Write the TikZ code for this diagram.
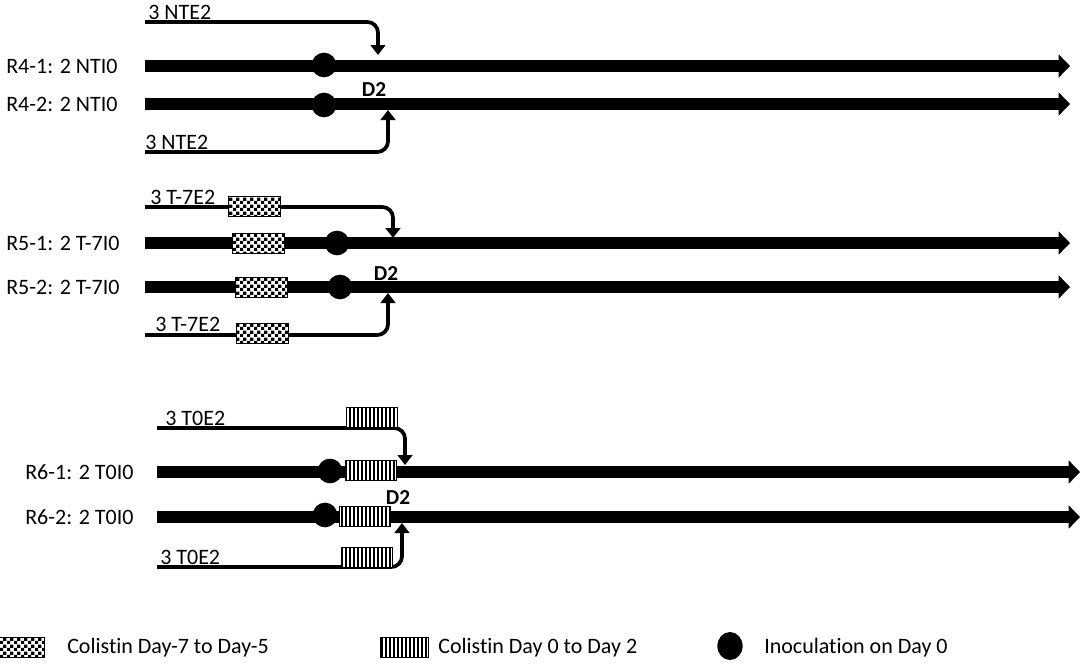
\documentclass[tikz,border=0pt]{standalone}
\usepackage{fontspec}
\setmainfont{Carlito}[Ligatures=CommonOff]
\usetikzlibrary{arrows.meta,positioning,patterns,shapes.geometric}

% finer fills than the stock patterns
\pgfdeclarepatternformonly{finecheck}{\pgfpointorigin}{\pgfpoint{5pt}{5pt}}{\pgfpoint{5pt}{5pt}}{%
  \pgfpathrectangle{\pgfpointorigin}{\pgfpoint{2.5pt}{2.5pt}}%
  \pgfpathrectangle{\pgfpoint{2.5pt}{2.5pt}}{\pgfpoint{2.5pt}{2.5pt}}%
  \pgfusepath{fill}}
\pgfdeclarepatternformonly{finestripe}{\pgfpoint{-1pt}{-1pt}}{\pgfpoint{4pt}{4pt}}{\pgfpoint{3pt}{3pt}}{%
  \pgfsetlinewidth{1.1pt}%
  \pgfpathmoveto{\pgfpoint{1.5pt}{-0.5pt}}%
  \pgfpathlineto{\pgfpoint{1.5pt}{3.5pt}}%
  \pgfusepath{stroke}}

\tikzset{
  track/.style={line width=9pt,-{Triangle[length=8.5pt,width=17pt]}},
  feed/.style={line width=2.8pt,rounded corners=8pt,-{Triangle[length=7.5pt,width=11pt]}},
  inoc/.style={circle,fill=black,inner sep=0pt,minimum size=18.5pt},
  chkbox/.style={draw,line width=0.6pt,preaction={fill=white},pattern=finecheck,
    minimum width=39pt,minimum height=15pt,inner sep=0pt},
  strbox/.style={draw,line width=0.6pt,preaction={fill=white},pattern=finestripe,
    minimum width=38pt,minimum height=15pt,inner sep=0pt},
  lbl/.style={font=\fontsize{16.5}{18}\selectfont,inner sep=0pt},
  dlbl/.style={font=\fontsize{16}{18}\selectfont\bfseries,inner sep=0pt}
}

\begin{document}
\begin{tikzpicture}[x=0.75pt,y=-0.75pt]
  \useasboundingbox (0,0) rectangle (1080,664);

  % ---- R4 ----
  \node[lbl,anchor=west] (r41) at (6,66) {R4-1: 2 NTI0};
  \node[lbl,anchor=west] (r42) at (6,104) {R4-2: 2 NTI0};
  \coordinate (a1) at (145,66);  \coordinate (a1e) at (1070,66);
  \coordinate (a2) at (145,104); \coordinate (a2e) at (1070,104);
  \draw[track] (a1) -- (a1e);
  \draw[track] (a2) -- (a2e);
  \node[inoc] (i1) at (324,65) {};
  \node[inoc] (i2) at (324,105) {};
  \coordinate (fa1) at (145,22);  \coordinate (ta1) at (378,55);
  \coordinate (fa2) at (145,152); \coordinate (ta2) at (388,110);
  \draw[feed] (fa1) -| (ta1);
  \draw[feed] (fa2) -| (ta2);
  \node[lbl,anchor=base west] (ea1) at (148,19) {3 NTE2};
  \node[lbl,anchor=base west] (ea2) at (145,149) {3 NTE2};
  \node[dlbl] (da) at (374,90) {D2};

  % ---- R5 ----
  \node[lbl,anchor=west] (r51) at (6,243) {R5-1: 2 T-7I0};
  \node[lbl,anchor=west] (r52) at (6,287) {R5-2: 2 T-7I0};
  \coordinate (b1) at (145,243); \coordinate (b1e) at (1070,243);
  \coordinate (b2) at (145,287); \coordinate (b2e) at (1070,287);
  \draw[track] (b1) -- (b1e);
  \draw[track] (b2) -- (b2e);
  \node[chkbox] (cb1) at (258,243) {};
  \node[chkbox] (cb2) at (261,287) {};
  \node[inoc] (i3) at (337,243) {};
  \node[inoc] (i4) at (340,287) {};
  \coordinate (fb1) at (145,207); \coordinate (tb1) at (393,238);
  \coordinate (fb2) at (145,335); \coordinate (tb2) at (388,293);
  \draw[feed] (fb1) -| (tb1);
  \draw[feed] (fb2) -| (tb2);
  \node[chkbox] (cf1) at (254,206) {};
  \node[chkbox] (cf2) at (262,333) {};
  \node[lbl,anchor=base west] (eb1) at (150,204) {3 T-7E2};
  \node[lbl,anchor=base west] (eb2) at (155,331) {3 T-7E2};
  \node[dlbl] (db) at (386,273) {D2};

  % ---- R6 ----
  \node[lbl,anchor=west] (r61) at (25,472) {R6-1: 2 T0I0};
  \node[lbl,anchor=west] (r62) at (25,517) {R6-2: 2 T0I0};
  \coordinate (c1) at (157,472); \coordinate (c1e) at (1080,472);
  \coordinate (c2) at (157,517); \coordinate (c2e) at (1080,517);
  \draw[track] (c1) -- (c1e);
  \draw[track] (c2) -- (c2e);
  \node[inoc] (i5) at (330,471) {};
  \node[inoc] (i6) at (325,515) {};
  \node[strbox] (sb1) at (371,470) {};
  \node[strbox] (sb2) at (365,516) {};
  \coordinate (fc1) at (157,428); \coordinate (tc1) at (405,465);
  \coordinate (fc2) at (157,567); \coordinate (tc2) at (402,523);
  \draw[feed] (fc1) -| (tc1);
  \draw[feed] (fc2) -| (tc2);
  \node[strbox,anchor=south] (sf1) at (372,428) {};
  \node[strbox,anchor=south] (sf2) at (367,568) {};
  \node[lbl,anchor=base west] (ec1) at (165,425) {3 T0E2};
  \node[lbl,anchor=base west] (ec2) at (160,564) {3 T0E2};
  \node[dlbl] (dc) at (398,497) {D2};

  % ---- legend ----
  \node[chkbox,minimum width=34pt] (kchk) at (22,647) {};
  \node[lbl,anchor=west] (tchk) at (67,648) {Colistin Day-7 to Day-5};
  \node[strbox,minimum width=36pt] (kstr) at (404,647) {};
  \node[lbl,anchor=west] (tstr) at (438,648) {Colistin Day 0 to Day 2};
  \node[ellipse,fill=black,inner sep=0pt,minimum width=19pt,minimum height=21pt] (kdot) at (730,646) {};
  \node[lbl,anchor=west] (tdot) at (764,648) {Inoculation on Day 0};
\end{tikzpicture}
\end{document}
